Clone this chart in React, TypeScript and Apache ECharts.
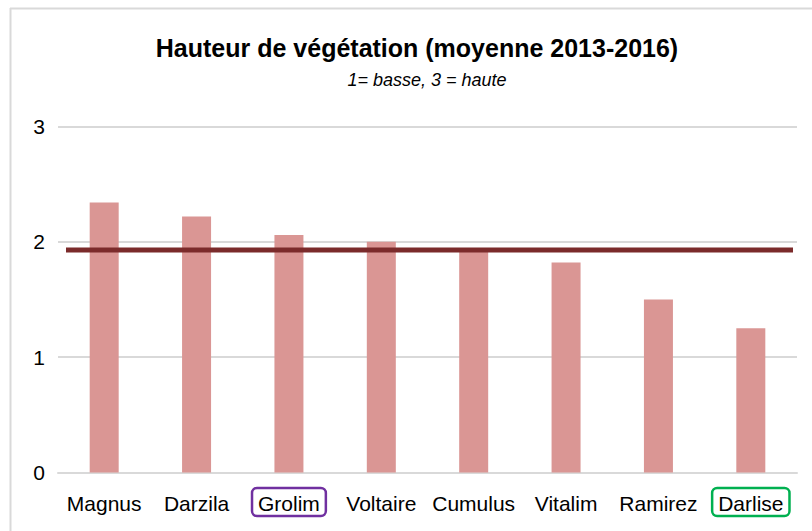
import React, { useEffect, useRef } from "react";
import * as echarts from "echarts";

const categories = ["Magnus", "Darzila", "Grolim", "Voltaire", "Cumulus", "Vitalim", "Ramirez", "Darlise"];
const heights = [2.34, 2.22, 2.06, 2.0, 1.94, 1.82, 1.5, 1.25];
const average = 1.93;
const averageLine = [average, average];
const yMin = 0;
const yMax = 3;
const yInterval = 1;
const titleText = "Hauteur de végétation (moyenne 2013-2016)";
const subtitleText = "1= basse, 3 = haute";
const boxedLabels: Record<string, string> = { Grolim: "purple", Darlise: "green" };

const FONT = "'Liberation Sans', Arial, sans-serif";

export default function App() {
  const ref = useRef<HTMLDivElement>(null);

  useEffect(() => {
    document.body.style.margin = "0";
    if (!ref.current) return;
    const chart = echarts.init(ref.current, undefined, { renderer: "svg" });
    const labelBase = {
      fontFamily: FONT,
      fontSize: 21,
      color: "#000",
      lineHeight: 25,
      padding: [5, 6, 2, 6],
    };
    chart.setOption({
      animation: false,
      backgroundColor: "#fff",
      grid: [
        { left: 58, right: 15, top: 126.5, bottom: 58.5, containLabel: false },
        { left: 66, right: 19, top: 126.5, bottom: 58.5, containLabel: false },
      ],
      xAxis: [
        {
          type: "category",
          gridIndex: 0,
          data: categories,
          axisLine: { show: true, lineStyle: { color: "#d9d9d9", width: 2 } },
          axisTick: { show: false },
          axisLabel: {
            margin: 17,
            interval: 0,
            formatter: (v: string) => `{${boxedLabels[v] || "n"}|${v}}`,
            rich: {
              n: { ...labelBase, borderColor: "transparent", borderWidth: 2.5 },
              purple: { ...labelBase, borderColor: "#7030A0", borderWidth: 2.5, borderRadius: 5 },
              green: { ...labelBase, borderColor: "#00B050", borderWidth: 2.5, borderRadius: 5 },
            },
          },
        },
        {
          type: "category",
          gridIndex: 1,
          data: ["", ""],
          boundaryGap: false,
          show: false,
        },
      ],
      yAxis: [
        {
          type: "value",
          gridIndex: 0,
          min: yMin,
          max: yMax,
          interval: yInterval,
          axisLine: { show: false },
          axisTick: { show: false },
          splitLine: { lineStyle: { color: "#d9d9d9", width: 2 } },
          axisLabel: { margin: 13, fontFamily: FONT, fontSize: 21, color: "#000" },
        },
        {
          type: "value",
          gridIndex: 1,
          min: yMin,
          max: yMax,
          show: false,
        },
      ],
      series: [
        {
          type: "bar",
          xAxisIndex: 0,
          yAxisIndex: 0,
          data: heights,
          barWidth: 29,
          itemStyle: { color: "#DA9694" },
          z: 2,
        },
        {
          type: "line",
          xAxisIndex: 1,
          yAxisIndex: 1,
          data: averageLine,
          symbol: "none",
          lineStyle: { color: "#7B2B2B", width: 5 },
          z: 3,
        },
      ],
      graphic: [
        {
          type: "line",
          shape: { x1: 10.5, y1: 8, x2: 10.5, y2: 531 },
          style: { stroke: "#d9d9d9", lineWidth: 2 },
        },
        {
          type: "line",
          shape: { x1: 10, y1: 8.5, x2: 812, y2: 8.5 },
          style: { stroke: "#d9d9d9", lineWidth: 2 },
        },
        {
          type: "text",
          x: 417,
          y: 48,
          style: {
            text: titleText,
            fontFamily: FONT,
            fontWeight: "bold",
            fontSize: 25,
            fill: "#000",
            textAlign: "center",
            textVerticalAlign: "middle",
          },
        },
        {
          type: "text",
          x: 427,
          y: 80,
          style: {
            text: subtitleText,
            fontFamily: FONT,
            fontStyle: "italic",
            fontSize: 18,
            fill: "#000",
            textAlign: "center",
            textVerticalAlign: "middle",
          },
        },
      ],
    });
    return () => chart.dispose();
  }, []);

  return <div ref={ref} style={{ width: 812, height: 531 }} />;
}
